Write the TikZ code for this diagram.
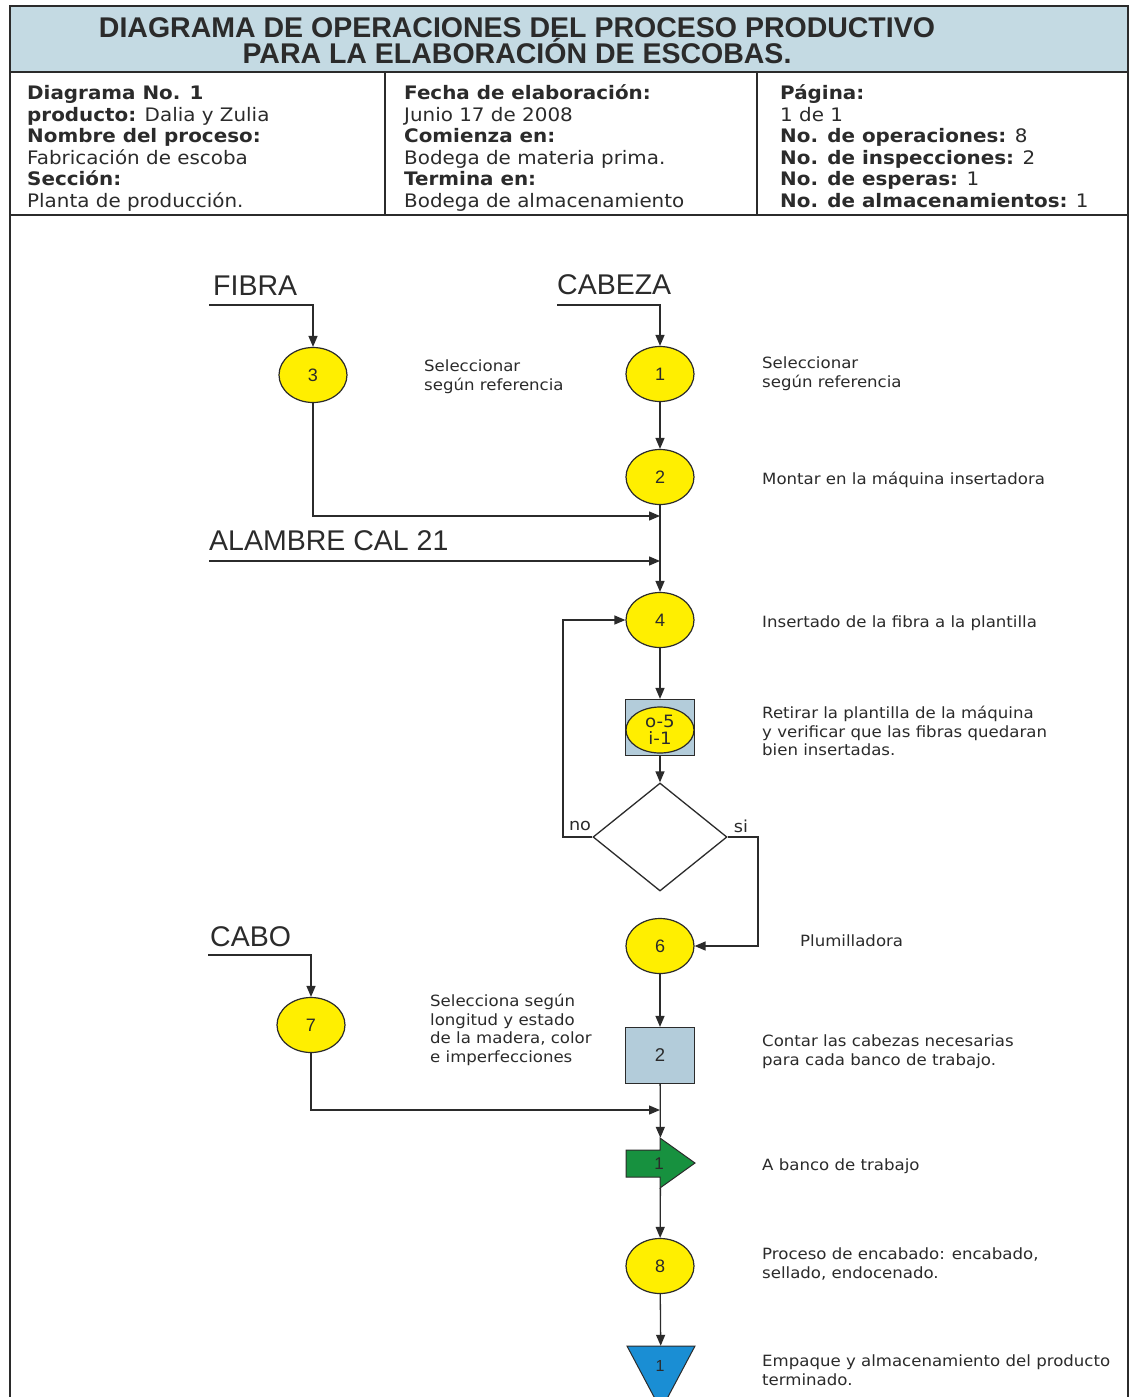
\documentclass[tikz,border=0pt]{standalone}
\usepackage{fontspec}
\setmainfont{DejaVu Sans}
\newfontfamily\arialf{Liberation Sans}
\newfontfamily\widef{DejaVu Sans}[FakeStretch=1.07]
\usetikzlibrary{shapes.geometric,arrows.meta,calc}

\definecolor{band}{HTML}{C4DAE3}
\definecolor{opyellow}{HTML}{FFEF00}
\definecolor{inspblue}{HTML}{B3CCDA}
\definecolor{movegreen}{HTML}{17913F}
\definecolor{storeblue}{HTML}{1A8ED4}
\definecolor{ink}{HTML}{2B2B2B}

\tikzset{
  frame/.style={draw=ink, line width=2pt},
  op/.style={ellipse, draw=ink, line width=1.2pt, fill=opyellow,
    minimum width=68pt, minimum height=55pt, inner sep=0pt,
    font=\arialf\fontsize{18}{18}\selectfont, text=ink},
  insp/.style={rectangle, draw=ink, line width=1.2pt, fill=inspblue,
    minimum width=69pt, minimum height=56pt, inner sep=0pt,
    font=\arialf\fontsize{18.5}{18.5}\selectfont, text=ink},
  flow/.style={draw=ink, line width=1.3pt, -{Triangle[length=11pt,width=9pt]}},
  desc/.style={anchor=west, align=left, inner sep=0pt,
    font=\widef\fontsize{15.5}{18.7}\selectfont, text=ink},
  matl/.style={anchor=west, inner sep=0pt,
    font=\arialf\fontsize{28.5}{28.5}\selectfont, text=ink},
  info/.style={anchor=north west, align=left, inner sep=0pt,
    font=\widef\fontsize{18.6}{21.5}\selectfont, text=ink},
}

\begin{document}
\begin{tikzpicture}[x=1pt,y=-1pt]
\useasboundingbox (0,0) rectangle (1133,1397);
\clip (0,0) rectangle (1133,1397);
\fill[white] (0,0) rectangle (1133,1397);

% title band and header table
\filldraw[fill=band, frame] (10,6) rectangle (1128,72);
\node (title) at (517,40.5) [align=center, inner sep=0pt, text=ink,
  font=\arialf\bfseries\fontsize{28.5}{25}\selectfont]
  {DIAGRAMA DE OPERACIONES DEL PROCESO PRODUCTIVO\\PARA LA ELABORACIÓN DE ESCOBAS.};
\draw[frame] (10,72) rectangle (1128,215);
\draw[draw=ink, line width=1.5pt] (385,72) -- (385,215) (757,72) -- (757,215);
\draw[frame] (10,215) -- (10,1420) (1128,215) -- (1128,1420);

\node (infoA) at (27,84.5) [info] {\rule{0pt}{15pt}\textbf{Diagrama No. 1}\\
  \textbf{producto:} Dalia y Zulia\\
  \textbf{Nombre del proceso:}\\
  Fabricación de escoba\\
  \textbf{Sección:}\\
  Planta de producción.};
\node (infoB) at (404,84.5) [info] {\rule{0pt}{15pt}\textbf{Fecha de elaboración:}\\
  Junio 17 de 2008\\
  \textbf{Comienza en:}\\
  Bodega de materia prima.\\
  \textbf{Termina en:}\\
  Bodega de almacenamiento};
\node (infoC) at (780,84.5) [info] {\rule{0pt}{15pt}\textbf{Página:}\\
  1 de 1\\
  \textbf{No. de operaciones:} 8\\
  \textbf{No. de inspecciones:} 2\\
  \textbf{No. de esperas:} 1\\
  \textbf{No. de almacenamientos:} 1};

% raw materials
\node (fibra)   at (213,286)  [matl] {FIBRA};
\node (cabeza)  at (557,285)  [matl] {CABEZA};
\node (alambre) at (209,541)  [matl] {ALAMBRE CAL 21};
\node (cabo)    at (210,937)  [matl] {CABO};

% process symbols
\node (c3) at (313,375)  [op] {3};
\node (c1) at (660,374)  [op] {1};
\node (c2) at (660,477)  [op] {2};
\node (c4) at (660,620)  [op] {4};
\node (i5) at (660,727.5) [insp] {};
\node (o5) at (660,730)  [op, minimum height=46pt, align=center,
  font=\widef\fontsize{17}{17.5}\selectfont] {o-5\\i-1};
\node (dec) at (660,837) [diamond, draw=ink, line width=1.3pt, fill=white,
  minimum width=134pt, minimum height=108pt, inner sep=0pt] {};
\node (c6) at (660,946)  [op] {6};
\node (c7) at (311,1025) [op] {7};
\node (b2) at (660,1055.5) [insp] {2};

% transport arrow
\filldraw[fill=movegreen, draw=ink, line width=1pt]
  (626,1150) -- (660,1150) -- (660,1138) -- (695,1163) -- (660,1188)
  -- (660,1177) -- (626,1177) -- cycle;
\node (ga) at (660.5,1163) [minimum width=69pt, minimum height=50pt, inner sep=0pt] {};
\node (gan) at (659,1164) [font=\arialf\fontsize{17}{17}\selectfont, text=ink] {1};

\node (c8) at (660,1266) [op] {8};

% storage triangle
\filldraw[fill=storeblue, draw=ink, line width=1pt]
  (627,1346) -- (695,1346) -- (661,1410) -- cycle;
\node (tri) at (661,1378) [minimum width=68pt, minimum height=64pt, inner sep=0pt] {};
\node (trin) at (660,1366) [font=\arialf\fontsize{16}{16}\selectfont, text=ink] {1};

% junction points on the main line
\coordinate (fibraS)  at (209,305);
\coordinate (cabezaS) at (557,305);
\coordinate (alamS)   at (209,561);
\coordinate (caboS)   at (208,955);
\coordinate (j1) at (660,516);
\coordinate (j2) at (660,561);
\coordinate (j3) at (660,1110);
\coordinate (noC) at (563,837);
\coordinate (siC) at (758,837);

% connectors
\draw[flow] (fibraS) -| (c3.north);
\draw[flow] (cabezaS) -| (c1.north);
\draw[flow] (c1) -- (c2);
\draw[flow] (c3.south) |- (j1);
\draw[flow] (alamS) -- (j2);
\draw[flow] (c2) -- (c4);
\draw[flow] (c4) -- (i5);
\draw[flow] (i5) -- (dec);
\draw[flow] (dec.west) -- (noC) |- (c4.west);
\draw[flow] (dec.east) -- (siC) |- (c6.east);
\draw[flow] (c6) -- (b2);
\draw[flow] (caboS) -| (c7.north);
\draw[flow] (c7.south) |- (j3);
\draw[flow] (b2) -- (ga);
\draw[flow] (ga) -- (c8);
\draw[flow] (c8) -- (tri);

\node (no) at (580,826) [font=\widef\fontsize{16.5}{16}\selectfont, text=ink] {no};
\node (si) at (741,826) [font=\widef\fontsize{16.5}{16}\selectfont, text=ink] {si};

% step descriptions
\node (d3) at (424,377) [desc] {Seleccionar\\según referencia};
\node (d1) at (762,374) [desc] {Seleccionar\\según referencia};
\node (d2) at (762,480) [desc] {Montar en la máquina insertadora};
\node (d4) at (762,623) [desc] {Insertado de la fibra a la plantilla};
\node (d5) at (762,731) [desc] {Retirar la plantilla de la máquina\\y verificar que las fibras quedaran\\bien insertadas.};
\node (d6) at (800,941) [desc] {Plumilladora};
\node (d7) at (430,1030) [desc] {Selecciona según\\longitud y estado\\de la madera, color\\e imperfecciones};
\node (db) at (762,1052) [desc] {Contar las cabezas necesarias\\para cada banco de trabajo.};
\node (dg) at (762,1166) [desc] {A banco de trabajo};
\node (d8) at (762,1264) [desc] {Proceso de encabado: encabado,\\sellado, endocenado.};
\node (dt) at (762,1370) [desc] {Empaque y almacenamiento del producto\\terminado.};
\end{tikzpicture}
\end{document}
